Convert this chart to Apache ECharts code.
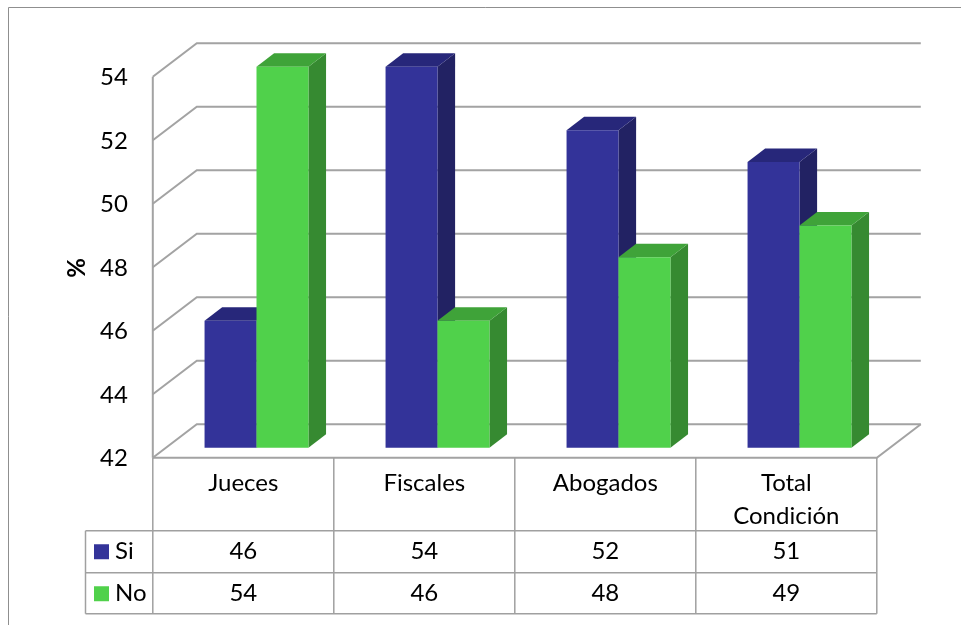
<!DOCTYPE html>
<html>
<head>
<meta charset="utf-8">
<script src="https://cdn.jsdelivr.net/npm/echarts@6/dist/echarts.min.js"></script>
<style>
  html, body { margin: 0; padding: 0; background: #ffffff; }
  #chart { width: 961px; height: 625px; }
</style>
</head>
<body>
<div id="chart"></div>
<script>
// Survey results by group (percent)
const categories = ['Jueces', 'Fiscales', 'Abogados', 'Total\nCondición'];
const seriesNames = ['Si', 'No'];
const siValues = [46, 54, 52, 51];
const noValues = [54, 46, 48, 49];
const yTicks = [42, 44, 46, 48, 50, 52, 54];
const axisTitle = '%';

// 3D look: depth vector from the front edge of the floor to the back wall
const DEPTH = { x: 44, y: -33.5 };
const BAR_PLANE = 0.3;   // depth at which the bar fronts sit
const BAR_DEPTH = 0.4;   // thickness of each bar along the depth
const BAR_WIDTH = 0.287; // fraction of a category band per bar

const FONT = 'Lato';
const GRID_COLOR = '#a3a3a3';
const TABLE_COLOR = '#a0a0a0';
const COLORS = [
  { front: '#333399', side: '#222263', top: '#27277a' },
  { front: '#50d14b', side: '#368a31', top: '#3fa339' }
];

const chart = echarts.init(document.getElementById('chart'), null, { renderer: 'canvas' });

const fx = -DEPTH.x * BAR_PLANE, fy = -DEPTH.y * BAR_PLANE;             // bar plane -> front
const bx = DEPTH.x * (1 - BAR_PLANE), by = DEPTH.y * (1 - BAR_PLANE);   // bar plane -> back

// Walls, gridlines, floor and tick labels
function renderWalls(params, api) {
  const cs = params.coordSys;
  const tick = api.value(1);
  const p = api.coord([0, tick]);
  const y = p[1];
  const left = cs.x, right = cs.x + cs.width;
  const line = { stroke: GRID_COLOR, lineWidth: 2, fill: 'none' };
  const children = [
    { type: 'polyline', shape: { points: [[left + fx, y + fy], [left + bx, y + by], [right + bx, y + by]] }, style: line },
    { type: 'text', style: { text: String(tick), x: left + fx - 25, y: y + fy + 1, align: 'right', verticalAlign: 'middle', font: '24px ' + FONT, fill: '#000' } }
  ];
  if (params.dataIndex === 0) {
    const yTop = api.coord([0, yTicks[yTicks.length - 1]])[1];
    children.push(
      { type: 'line', shape: { x1: left + fx, y1: yTop + fy, x2: left + fx, y2: y + fy }, style: line },
      { type: 'polyline', shape: { points: [[left + fx, y + fy], [right + fx, y + fy], [right + bx, y + by]] }, style: line }
    );
  }
  return { type: 'group', children: children };
}

// 3D column: front face, right side and top
function renderBar(sIdx) {
  return function (params, api) {
    const cat = api.value(0), val = api.value(1);
    const top = api.coord([cat, val]);
    const base = api.coord([cat, yTicks[0]]);
    const band = api.size([1, 0])[0];
    const w = band * BAR_WIDTH;
    const x0 = top[0] + (sIdx === 0 ? -w : 0), x1 = x0 + w;
    const y0 = top[1], y1 = base[1];
    const dx = DEPTH.x * BAR_DEPTH, dy = DEPTH.y * BAR_DEPTH;
    const c = COLORS[sIdx];
    return {
      type: 'group',
      children: [
        { type: 'polygon', shape: { points: [[x1, y0], [x1 + dx, y0 + dy], [x1 + dx, y1 + dy], [x1, y1]] }, style: { fill: c.side } },
        { type: 'polygon', shape: { points: [[x0, y0], [x0 + dx, y0 + dy], [x1 + dx, y0 + dy], [x1, y0]] }, style: { fill: c.top } },
        { type: 'rect', shape: { x: x0, y: y0, width: w, height: y1 - y0 }, style: { fill: c.front } }
      ]
    };
  };
}

// Data table under the plot, with the legend keys in its first column
function renderTable(params, api) {
  const cs = params.coordSys;
  const i = api.value(0);
  const band = api.size([1, 0])[0];
  const cx = api.coord([i, yTicks[0]])[0] + fx;
  const yFloor = api.coord([i, yTicks[0]])[1] + fy;
  const rowTop1 = yFloor + 73, rowTop2 = rowTop1 + 42, rowEnd = rowTop2 + 41;
  const xl = cx - band / 2, xr = cx + band / 2;
  const ln = { stroke: TABLE_COLOR, lineWidth: 1.5 };
  const txt = (t, x, y) => ({ type: 'text', style: { text: t, x: x, y: y, align: 'center', verticalAlign: 'middle', font: '24px ' + FONT, fill: '#000' } });
  const values = [siValues[i], noValues[i]];
  const children = [
    { type: 'line', shape: { x1: xr, y1: yFloor, x2: xr, y2: rowEnd }, style: ln },
    { type: 'text', style: { text: categories[i], x: cx, y: yFloor + 9.5, align: 'center', verticalAlign: 'top', lineHeight: 33, font: '24px ' + FONT, fill: '#000' } },
    txt(String(values[0]), cx, rowTop1 + 21),
    txt(String(values[1]), cx, rowTop2 + 21)
  ];
  if (i === 0) {
    const tableRight = cs.x + cs.width + fx;
    const keyLeft = 85.5;
    children.push(
      { type: 'line', shape: { x1: xl, y1: yFloor, x2: xl, y2: rowEnd }, style: ln },
      { type: 'line', shape: { x1: keyLeft, y1: rowTop1, x2: keyLeft, y2: rowEnd }, style: ln },
      { type: 'line', shape: { x1: keyLeft, y1: rowTop1, x2: tableRight, y2: rowTop1 }, style: ln },
      { type: 'line', shape: { x1: keyLeft, y1: rowTop2, x2: tableRight, y2: rowTop2 }, style: ln },
      { type: 'line', shape: { x1: keyLeft, y1: rowEnd, x2: tableRight, y2: rowEnd }, style: ln }
    );
    [rowTop1, rowTop2].forEach((rt, k) => {
      children.push(
        { type: 'rect', shape: { x: 94, y: rt + 13.5, width: 15, height: 15 }, style: { fill: COLORS[k].front } },
        { type: 'text', style: { text: seriesNames[k], x: 115, y: rt + 21, align: 'left', verticalAlign: 'middle', font: '24px ' + FONT, fill: '#000' } }
      );
    });
  }
  return { type: 'group', children: children };
}

const option = {
  animation: false,
  backgroundColor: '#ffffff',
  grid: { left: 166, top: 66.7, width: 724, height: 381, containLabel: false },
  xAxis: { type: 'category', data: categories, show: false },
  yAxis: { type: 'value', min: 42, max: 54, interval: 2, show: false },
  graphic: [
    { type: 'rect', shape: { x: 8.5, y: 7.5, width: 1000, height: 700 }, style: { fill: 'none', stroke: '#8f8f8f', lineWidth: 1 }, z: 0 },
    { type: 'text', x: 77, y: 268, rotation: Math.PI / 2, style: { text: axisTitle, align: 'center', verticalAlign: 'middle', font: 'bold 24px ' + FONT, fill: '#000' }, z: 5 }
  ],
  series: [
    { type: 'custom', name: 'walls', renderItem: renderWalls, data: yTicks.map(t => [0, t]), encode: { x: 0, y: 1 }, clip: false, silent: true, z: 1 },
    { type: 'custom', name: seriesNames[0], renderItem: renderBar(0), data: siValues.map((v, i) => [i, v]), encode: { x: 0, y: 1 }, clip: false, z: 2 },
    { type: 'custom', name: seriesNames[1], renderItem: renderBar(1), data: noValues.map((v, i) => [i, v]), encode: { x: 0, y: 1 }, clip: false, z: 3 },
    { type: 'custom', name: 'table', renderItem: renderTable, data: categories.map((c, i) => [i, siValues[i], noValues[i]]), encode: { x: 0, y: 1 }, clip: false, silent: true, z: 4 }
  ]
};

chart.setOption(option);
</script>
</body>
</html>
